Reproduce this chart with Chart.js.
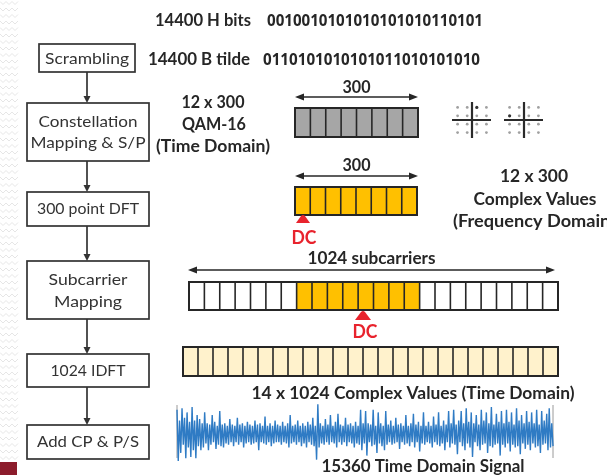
<!DOCTYPE html>
<html><head><meta charset="utf-8">
<script src="https://cdn.jsdelivr.net/npm/chart.js@4"></script>
<style>html,body{margin:0;padding:0;background:#fff;}canvas{display:block;}</style>
</head><body>
<canvas id="c" width="607" height="475"></canvas>
<script>
// ---------- data ----------
const steps = [['Scrambling'], ['Constellation', 'Mapping & S/P'], ['300 point DFT'], ['Subcarrier', 'Mapping'], ['1024 IDFT'], ['Add CP & P/S']];
const bitLabels = ['14400 H bits', '14400 B tilde'];
const bitStrings = ['0010010101010101010110101', '0110101010101011010101010'];
const qamLabel = ['12 x 300', 'QAM-16', '(Time Domain)'];
const freqLabel = ['12 x 300', 'Complex Values', '(Frequency Domain)'];
const widthLabels = ['300', '300', '1024 subcarriers'];
const dcLabel = 'DC';
const idftLabel = '14 x 1024 Complex Values (Time Domain)';
const signalLabel = '15360 Time Domain Signal';
const cellCounts = [8, 8, 24, 25];           // gray, orange, subcarrier row, idft row
const mappedCells = [7, 15];                  // occupied subcarrier cells [start, end)
const qamLevels = [-3, -1, 1, 3];
const qamHighlight = [[1, 3], [-3, 1]];
const signal = [
 0.9,-1.0,0.5,-0.7,0.95,-0.4,0.6,-0.9,0.8,-0.5,0.45,-0.85,1.0,-0.6,0.5,-0.9,0.7,-0.45,0.55,-0.6,
 0.4,-0.5,0.8,-0.35,0.4,-0.6,0.35,-0.4,0.7,-0.3,0.45,-0.55,0.3,-0.4,0.85,-0.45,0.35,-0.5,0.4,-0.35,
 0.3,-0.4,0.55,-0.3,0.35,-0.45,0.3,-0.3,0.6,-0.4,0.35,-0.3,0.4,-0.5,0.3,-0.35,0.45,-0.3,0.35,-0.4,
 0.3,-0.35,0.5,-0.3,0.35,-0.6,0.4,-0.3,0.3,-0.35,0.65,-0.4,0.3,-0.3,0.4,-0.45,0.3,-0.35,0.5,-0.3,
 0.35,-0.3,0.3,-0.4,0.45,-0.3,0.3,-0.35,0.4,-0.5,0.7,-0.35,0.3,-0.3,0.35,-0.4,0.5,-0.3,0.3,-0.45,
 0.4,-0.35,0.3,-0.5,0.45,-0.3,0.35,-0.4,0.6,-0.45,0.3,-0.95,1.1,-0.5,0.4,-0.35,0.3,-0.4,0.55,-0.3,
 0.35,-0.4,0.7,-0.3,0.3,-0.35,0.45,-0.5,0.75,-0.3,0.35,-0.4,0.3,-0.3,0.6,-0.45,0.35,-0.3,0.4,-0.35,
 0.3,-0.5,0.45,-0.35,0.3,-0.4,0.9,-0.6,0.4,-0.35,0.85,-0.8,0.4,-0.3,0.35,-0.45,0.9,-0.4,0.3,-0.7,
 0.8,-0.35,0.4,-0.45,0.3,-0.6,0.85,-0.4,0.35,-0.3,0.5,-0.4,0.3,-0.35,0.6,-0.3,0.35,-0.55,0.4,-0.3,
 0.3,-0.4,0.7,-0.35,0.3,-0.45,0.4,-0.3,0.75,-0.5,0.35,-0.3,0.45,-0.65,0.3,-0.35,0.8,-0.4,0.3,-0.3,
 0.45,-0.35,0.3,-0.5,0.65,-0.3,0.35,-0.4,0.8,-0.45,0.3,-0.35,0.5,-0.6,0.35,-0.3,0.85,-0.5,0.4,-0.35,
 0.9,-0.4,0.35,-0.75,0.5,-0.3,0.85,-0.45,0.4,-0.6,0.95,-0.35,0.45,-0.5,0.8,-0.85,0.4,-0.3,0.7,-0.45,
 0.35,-0.6,0.9,-0.4,0.5,-0.35,0.8,-0.7,0.4,-0.45,1.0,-0.5,0.35,-0.4,0.75,-0.35,0.45,-0.8,0.85,-0.4,
 0.4,-0.5,0.9,-0.35,0.45,-0.65,0.8,-0.4,0.35,-0.5,0.95,-0.45,0.5,-0.75,0.7,-0.35,0.4,-0.55,0.85,-0.4,
 0.45,-0.6,0.8,-0.35,0.4,-0.5,0.9,-0.45,0.35,-0.7,0.85,-0.4,0.5,-0.35,0.75,-0.6,0.95,-0.5,0.4,-0.45
];

// ---------- layout (positions / styles) ----------
const L = {
  boxes: [
    {x0:39,x1:135,y0:44,y1:72, ty:[59], tw:[84]},
    {x0:27,x1:149,y0:103,y1:161, ty:[122,143], tw:[99,115]},
    {x0:27,x1:149,y0:192,y1:226, ty:[209], tw:[102]},
    {x0:27,x1:149,y0:261,y1:319, ty:[280,302], tw:[79,68]},
    {x0:27,x1:149,y0:354,y1:387, ty:[371], tw:[75]},
    {x0:27,x1:149,y0:425,y1:459, ty:[442], tw:[102]}
  ],
  flowX: 87,
  rows: [
    {x0:295,x1:418,y0:108,y1:137, fill:'#a6a6a6'},
    {x0:295,x1:417,y0:187,y1:215, fill:'#ffc000'},
    {x0:189,x1:558,y0:282,y1:310, fill:'#ffffff', hi:'#ffc000'},
    {x0:183,x1:558,y0:347,y1:376, fill:'#fff2cc'}
  ],
  spans: [ {x0:295,x1:418,y:97, ty:88, tw:28}, {x0:295,x1:418,y:176, ty:166, tw:28}, {x0:188,x1:555,y:270, ty:259, tw:128} ],
  dc: [ {x:303,ty:215,by:223,hw:7, lx:304, ly:238}, {x:363,ty:311,by:320,hw:8, lx:365, ly:332} ],
  qam: [ {cx:472,cy:120}, {cx:524,cy:120} ]
};
const DARK = '#262626';
const BOLD = 16.5, BITS = 16, REG = 16;

// draw text at a font size, squeezed horizontally to the wanted width
function drawText(ctx, str, x, y, w, size, weight, color, align, family) {
  ctx.font = weight + ' ' + size + 'px ' + (family || 'Lato');
  const m = ctx.measureText(str).width;
  const k = w ? w / m : 1;
  ctx.save();
  ctx.translate(x, y); ctx.scale(k, 1);
  ctx.fillStyle = color; ctx.textAlign = align || 'center'; ctx.textBaseline = 'middle';
  ctx.fillText(str, 0, 0);
  ctx.restore();
}
function head(ctx, x, y, dx, dy, len, hw) {
  ctx.beginPath();
  ctx.moveTo(x, y);
  ctx.lineTo(x - dx*len - dy*hw, y - dy*len - dx*hw);
  ctx.lineTo(x - dx*len + dy*hw, y - dy*len + dx*hw);
  ctx.closePath(); ctx.fill();
}

const diagram = {
  id: 'diagram',
  beforeDatasetsDraw(chart) {
    const ctx = chart.ctx, X = chart.scales.x, Y = chart.scales.y;
    const px = v => X.getPixelForValue(v), py = v => Y.getPixelForValue(v);
    ctx.save();
    // left decorative stripe
    ctx.strokeStyle = '#e6e6e6'; ctx.lineWidth = 1;
    for (let r = 3; r < 462; r += 6.5) {
      ctx.beginPath();
      for (let k = 0; k <= 6; k++) { const xx = px(k*3), yy = py(r + (k%2 ? 1.5 : -1.5)); k ? ctx.lineTo(xx, yy) : ctx.moveTo(xx, yy); }
      ctx.stroke();
    }
    ctx.fillStyle = '#8c1c2c';
    ctx.fillRect(px(0), py(462), px(17)-px(0), py(475)-py(462));

    // flow boxes
    L.boxes.forEach((b, i) => {
      ctx.fillStyle = '#fff'; ctx.strokeStyle = '#333'; ctx.lineWidth = 1.7;
      ctx.fillRect(px(b.x0), py(b.y0), px(b.x1)-px(b.x0), py(b.y1)-py(b.y0));
      ctx.strokeRect(px(b.x0), py(b.y0), px(b.x1)-px(b.x0), py(b.y1)-py(b.y0));
      steps[i].forEach((t, j) => drawText(ctx, t, px((b.x0+b.x1)/2), py(b.ty[j]), b.tw[j], REG, 'normal', '#333'));
      if (i > 0) {
        const prev = L.boxes[i-1];
        ctx.strokeStyle = '#333'; ctx.fillStyle = '#333'; ctx.lineWidth = 1.7;
        ctx.beginPath(); ctx.moveTo(px(L.flowX), py(prev.y1)); ctx.lineTo(px(L.flowX), py(b.y0) - 5); ctx.stroke();
        head(ctx, px(L.flowX), py(b.y0), 0, 1, 7, 3.5);
      }
    });

    // cell rows
    L.rows.forEach((r, i) => {
      const n = cellCounts[i], w = (r.x1 - r.x0) / n;
      for (let k = 0; k < n; k++) {
        let f = r.fill;
        if (r.hi && k >= mappedCells[0] && k < mappedCells[1]) f = r.hi;
        ctx.fillStyle = f;
        ctx.fillRect(px(r.x0 + k*w), py(r.y0), px(r.x0+(k+1)*w)-px(r.x0+k*w), py(r.y1)-py(r.y0));
      }
      ctx.strokeStyle = DARK; ctx.lineWidth = 1.6;
      for (let k = 1; k < n; k++) {
        ctx.beginPath(); ctx.moveTo(px(r.x0 + k*w), py(r.y0)); ctx.lineTo(px(r.x0 + k*w), py(r.y1)); ctx.stroke();
      }
      ctx.lineWidth = 2;
      ctx.strokeRect(px(r.x0), py(r.y0), px(r.x1)-px(r.x0), py(r.y1)-py(r.y0));
    });

    // span arrows
    L.spans.forEach((s, i) => {
      ctx.strokeStyle = DARK; ctx.fillStyle = DARK; ctx.lineWidth = 1.5;
      ctx.beginPath(); ctx.moveTo(px(s.x0)+6, py(s.y)); ctx.lineTo(px(s.x1)-6, py(s.y)); ctx.stroke();
      head(ctx, px(s.x1), py(s.y), 1, 0, 9, 3.5);
      head(ctx, px(s.x0), py(s.y), -1, 0, 9, 3.5);
      drawText(ctx, widthLabels[i], px((s.x0+s.x1)/2), py(s.ty), s.tw, BOLD, 'bold', DARK);
    });

    // DC markers
    L.dc.forEach(d => {
      ctx.fillStyle = '#e8232d';
      ctx.beginPath();
      ctx.moveTo(px(d.x - d.hw), py(d.by));
      ctx.lineTo(px(d.x - 2), py(d.ty + 1));
      ctx.quadraticCurveTo(px(d.x), py(d.ty - 1), px(d.x + 2), py(d.ty + 1));
      ctx.lineTo(px(d.x + d.hw), py(d.by));
      ctx.closePath(); ctx.fill();
      drawText(ctx, dcLabel, px(d.lx), py(d.ly), 25, 18, 'bold', '#e8232d');
    });

    // QAM constellations
    L.qam.forEach((q, i) => {
      qamLevels.forEach(a => qamLevels.forEach(b => {
        const hi = a === qamHighlight[i][0] && b === qamHighlight[i][1];
        ctx.fillStyle = hi ? '#333' : '#a0a0a0';
        ctx.beginPath(); ctx.arc(px(q.cx + a*4.8), py(q.cy - b*4.2), hi ? 1.6 : 1.4, 0, 7); ctx.fill();
      }));
      ctx.strokeStyle = '#2a2a2a'; ctx.lineWidth = 2.2;
      ctx.beginPath();
      ctx.moveTo(px(q.cx - 20), py(q.cy)); ctx.lineTo(px(q.cx + 19), py(q.cy));
      ctx.moveTo(px(q.cx), py(q.cy - 18)); ctx.lineTo(px(q.cx), py(q.cy + 18));
      ctx.stroke();
    });

    // signal end markers
    ctx.strokeStyle = '#9a9a9a'; ctx.lineWidth = 1;
    [177, 553].forEach(x => { ctx.beginPath(); ctx.moveTo(px(x), py(405)); ctx.lineTo(px(x), py(458)); ctx.stroke(); });
    ctx.restore();
  },
  afterDatasetsDraw(chart) {
    const ctx = chart.ctx, X = chart.scales.x, Y = chart.scales.y;
    const px = v => X.getPixelForValue(v), py = v => Y.getPixelForValue(v);
    ctx.save();
    drawText(ctx, bitLabels[0], px(155), py(21), 96, BOLD, 'bold', DARK, 'left');
    drawText(ctx, bitStrings[0], px(267), py(21), 216, BITS, 'bold', DARK, 'left', '"Open Sans"');
    drawText(ctx, bitLabels[1], px(148), py(60), 102, BOLD, 'bold', DARK, 'left');
    drawText(ctx, bitStrings[1], px(263), py(60), 217, BITS, 'bold', DARK, 'left', '"Open Sans"');
    drawText(ctx, qamLabel[0], px(213), py(103), 63, BOLD, 'bold', DARK);
    drawText(ctx, qamLabel[1], px(214), py(125), 64, BOLD, 'bold', DARK);
    drawText(ctx, qamLabel[2], px(213), py(147), 114, BOLD, 'bold', DARK);
    drawText(ctx, freqLabel[0], px(534), py(177), 68, BOLD, 'bold', DARK);
    drawText(ctx, freqLabel[1], px(535), py(200), 123, BOLD, 'bold', DARK);
    drawText(ctx, freqLabel[2], px(453), py(222), 162, BOLD, 'bold', DARK, 'left');
    drawText(ctx, idftLabel, px(413), py(394), 323, BOLD, 'bold', DARK);
    drawText(ctx, signalLabel, px(423), py(467), 203, BOLD, 'bold', DARK);
    ctx.restore();
  }
};

// signal axes: index -> 177..553 px, amplitude 1 = 27 px about y=434
const N = signal.length, ppi = 376 / (N - 1), amp = 27;
const xsMin = -177 / ppi, ysMax = 434 / amp;

new Chart(document.getElementById('c'), {
  type: 'scatter',
  data: {
    datasets: [{
      data: signal.map((v, i) => ({x: i, y: v})),
      xAxisID: 'xs', yAxisID: 'ys',
      showLine: true, borderColor: '#2f7bc4', borderWidth: 1.4, pointRadius: 0, tension: 0
    }]
  },
  options: {
    responsive: false, animation: false, devicePixelRatio: 1,
    layout: {padding: 0},
    plugins: {legend: {display: false}, tooltip: {enabled: false}},
    scales: {
      x: {type: 'linear', min: 0, max: 607, display: false},
      y: {type: 'linear', min: 0, max: 475, reverse: true, display: false},
      xs: {type: 'linear', min: xsMin, max: xsMin + 607 / ppi, display: false},
      ys: {type: 'linear', min: ysMax - 475 / amp, max: ysMax, display: false}
    }
  },
  plugins: [diagram]
});
</script>
</body></html>
